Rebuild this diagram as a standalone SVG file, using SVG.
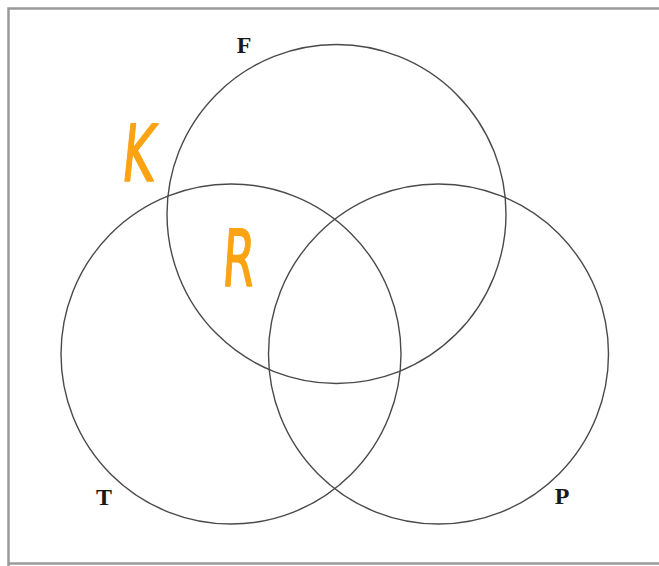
<svg xmlns="http://www.w3.org/2000/svg" width="659" height="566" viewBox="0 0 659 566">
<style>
.set{fill:none;stroke:#4a4a4a;stroke-width:1.4}
.lbl{font-family:"Liberation Serif","Times New Roman",serif;font-weight:bold;font-size:24px;fill:#1a1a1a;text-anchor:middle}
.hand{font-family:"DejaVu Sans","Liberation Sans",sans-serif;font-size:80px;fill:#FBA313;stroke:#FBA313;stroke-width:1.5;stroke-linejoin:round}
</style>
<rect width="659" height="566" fill="#ffffff"/>
<path d="M8.5,566 V8.5 H659 M8.5,563.5 H659" fill="none" stroke="#9a9a9a" stroke-width="2.5"/>
<g id="F"><circle class="set" cx="336.5" cy="214" r="169.5"/><text class="lbl" x="244" y="53">F</text></g>
<g id="T"><circle class="set" cx="231" cy="354" r="170"/><text class="lbl" x="104" y="505">T</text></g>
<g id="P"><circle class="set" cx="438.5" cy="354" r="170"/><text class="lbl" x="562" y="504">P</text></g>
<g id="connectors"/>
<text class="hand" transform="translate(120,181) skewX(-6) scale(0.62,0.98)" x="0" y="0">K</text>
<text class="hand" transform="translate(221,286) skewX(-4) scale(0.58,0.98)" x="0" y="0">R</text>
</svg>
